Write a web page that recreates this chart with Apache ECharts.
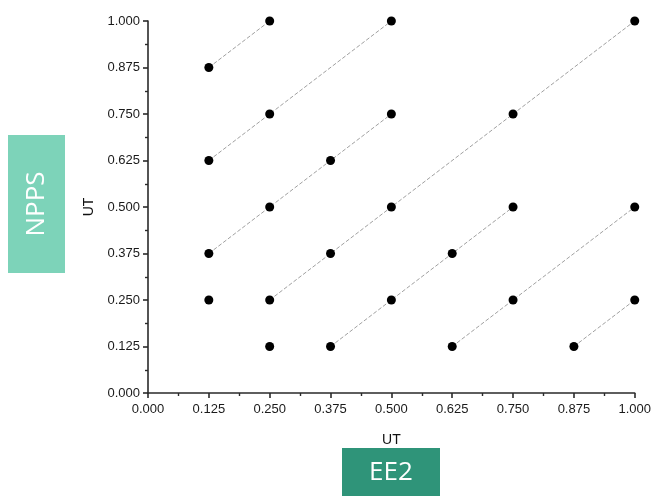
<!DOCTYPE html>
<html><head><meta charset="utf-8">
<script src="https://cdn.jsdelivr.net/npm/echarts@6/dist/echarts.min.js"></script>
<style>html,body{margin:0;padding:0;background:#fff}#c{width:654px;height:496px}</style>
</head><body><div id="c"></div>
<script>
const tickValues = [0.000, 0.125, 0.250, 0.375, 0.500, 0.625, 0.750, 0.875, 1.000];
const chain1 = [[0.125, 0.875], [0.250, 1.000]];
const chain2 = [[0.125, 0.625], [0.250, 0.750], [0.500, 1.000]];
const chain3 = [[0.125, 0.375], [0.250, 0.500], [0.375, 0.625], [0.500, 0.750]];
const chain4 = [[0.125, 0.250]];
const chain5 = [[0.250, 0.250], [0.375, 0.375], [0.500, 0.500], [0.750, 0.750], [1.000, 1.000]];
const chain6 = [[0.250, 0.125]];
const chain7 = [[0.375, 0.125], [0.500, 0.250], [0.625, 0.375], [0.750, 0.500]];
const chain8 = [[0.625, 0.125], [0.750, 0.250], [1.000, 0.500]];
const chain9 = [[0.875, 0.125], [1.000, 0.250]];
const chains = [chain1, chain2, chain3, chain4, chain5, chain6, chain7, chain8, chain9];
const axisTitle = 'UT';

const font = 'Liberation Sans, Arial, sans-serif';
const chart = echarts.init(document.getElementById('c'), null, {renderer: 'canvas'});
function axisCommon() {
  return {
    type: 'value', min: 0, max: 1, interval: 0.125,
    axisLine: {show: true, lineStyle: {color: '#2a2a2a', width: 1.6}},
    axisTick: {show: true, inside: false, length: 5, lineStyle: {color: '#2a2a2a', width: 1.6}},
    minorTick: {show: true, splitNumber: 2, length: 3, lineStyle: {color: '#2a2a2a', width: 1.4}},
    splitLine: {show: false},
    axisLabel: {color: '#1a1a1a', fontFamily: font, fontSize: 13, formatter: v => v.toFixed(3), showMinLabel: true, showMaxLabel: true},
    name: axisTitle, nameLocation: 'middle',
    nameTextStyle: {color: '#111', fontFamily: font, fontSize: 14}
  };
}
const xAxis = Object.assign(axisCommon(), {nameGap: 40});
xAxis.axisLabel.margin = 10;
const yAxis = Object.assign(axisCommon(), {nameGap: 52});
yAxis.axisLabel.margin = 8;
chart.setOption({
  animation: false,
  grid: {left: 148, right: 18, top: 21, bottom: 103},
  xAxis: xAxis,
  yAxis: yAxis,
  series: chains.map(c => ({
    type: 'line', data: c,
    symbol: 'circle', symbolSize: 9,
    itemStyle: {color: '#000'},
    lineStyle: {color: '#a0a0a0', width: 1, type: [4, 2]},
    z: 3
  })),
  graphic: [
    {type: 'rect', left: 8, top: 135, shape: {width: 57, height: 138}, style: {fill: '#7dd3b9'}},
    {type: 'text', x: 37, y: 204, rotation: Math.PI / 2, style: {text: 'NPPS', fill: '#fff', font: '26px "Open Sans", "Noto Sans", sans-serif', align: 'center', verticalAlign: 'middle'}},
    {type: 'rect', left: 342, top: 448, shape: {width: 98, height: 48}, style: {fill: '#2f9479'}},
    {type: 'text', x: 391, y: 473, style: {text: 'EE2', fill: '#fff', font: '26px "Open Sans", "Noto Sans", sans-serif', align: 'center', verticalAlign: 'middle'}}
  ]
});
</script></body></html>
